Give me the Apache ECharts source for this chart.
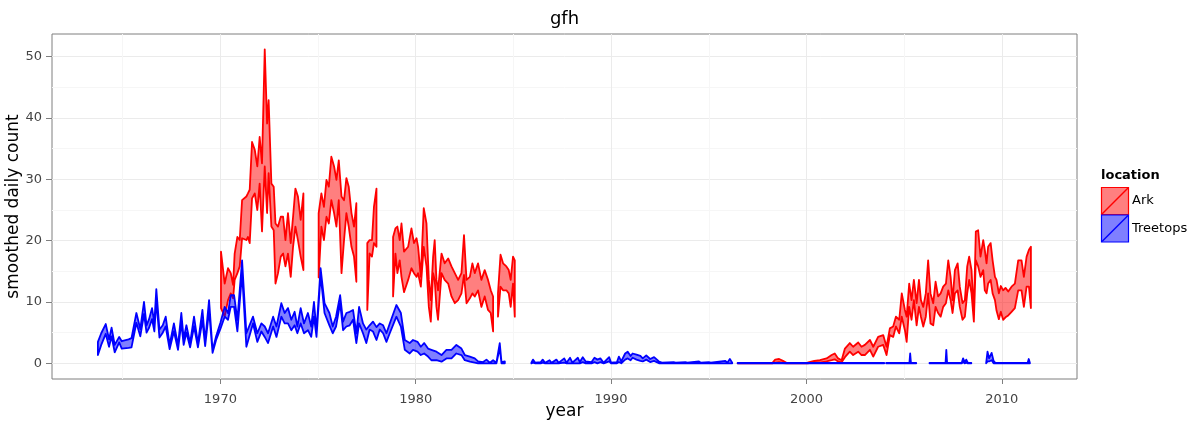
<!DOCTYPE html>
<html>
<head>
<meta charset="utf-8">
<title>gfh</title>
<script src="https://cdn.jsdelivr.net/npm/echarts@6/dist/echarts.min.js"></script>
<style>
  html, body { margin: 0; padding: 0; background: #ffffff; }
  #chart { width: 1201px; height: 430px; }
</style>
</head>
<body>
<div id="chart"></div>
<script>
// Axis ticks and ranges
const xMajor = [1970, 1980, 1990, 2000, 2010];
const xMinor = [1965, 1975, 1985, 1995, 2005];
const yMajor = [0, 10, 20, 30, 40, 50];
const yMinor = [5, 15, 25, 35, 45];
const xRange = [1961.38, 2013.85];
const yRange = [-2.56, 53.7];

// Treetops: smoothed daily count band (null = no data)
const treeYear = [
  1963.73, 1963.90, 1964.13, 1964.30, 1964.43, 1964.59, 1964.82, 1964.95, 1965.30, 1965.45,
  1965.70, 1965.90, 1966.09, 1966.22, 1966.35, 1966.50, 1966.62, 1966.72, 1966.88, 1967.05,
  1967.20, 1967.40, 1967.62, 1967.83, 1968.00, 1968.12, 1968.26, 1968.45, 1968.65, 1968.85,
  1969.08, 1969.22, 1969.42, 1969.60, 1969.78, 1970.00, 1970.22, 1970.39, 1970.53, 1970.70,
  1970.87, 1971.11, 1971.33, 1971.67, 1971.89, 1972.10, 1972.27, 1972.44, 1972.70, 1972.87,
  1973.12, 1973.29, 1973.46, 1973.63, 1973.80, 1973.94, 1974.11, 1974.28, 1974.48, 1974.65,
  1974.79, 1974.92, 1975.13, 1975.33, 1975.58, 1975.75, 1975.92, 1976.13, 1976.28, 1976.45,
  1976.62, 1976.79, 1976.96, 1977.10, 1977.30, 1977.47, 1977.64, 1977.81, 1977.99, 1978.16,
  1978.33, 1978.50, 1978.67, 1979.01, 1979.24, 1979.44, 1979.69, 1979.86, 1980.09, 1980.26,
  1980.43, 1980.63, 1980.80, 1981.06, 1981.32, 1981.57, 1981.83, 1982.08, 1982.34, 1982.51,
  1982.77, 1983.02, 1983.19, 1983.45, 1983.62, 1983.79, 1983.96, 1984.13, 1984.30, 1984.39,
  1984.56, 1985.20,
  1985.92, 1986.00, 1986.12, 1986.40, 1986.50, 1986.62, 1986.85, 1986.95, 1987.20, 1987.32,
  1987.60, 1987.72, 1987.90, 1988.02, 1988.30, 1988.40, 1988.55, 1988.70, 1989.00, 1989.15,
  1989.30, 1989.45, 1989.62, 1989.90, 1990.00, 1990.30, 1990.40, 1990.52, 1990.72, 1990.85,
  1991.00, 1991.10, 1991.30, 1991.50, 1991.62, 1991.80, 1992.00, 1992.20, 1992.45, 1992.60,
  1993.20, 1993.30, 1993.80, 1993.90, 1994.50, 1994.60, 1995.00, 1995.10, 1995.85, 1995.95,
  1996.08, 1996.20, 1996.34,
  1996.48, 2003.98, 2004.03,
  2004.08, 2005.27, 2005.31, 2005.35, 2005.62, 2005.95,
  2006.30, 2007.12, 2007.16, 2007.20, 2007.95, 2008.02, 2008.10, 2008.18, 2008.26, 2008.44, 2008.80,
  2009.20, 2009.27, 2009.35, 2009.48, 2009.58, 2009.68, 2011.32, 2011.38, 2011.44
];
const treeLow = [
  1.35, 3.0, 4.8, 2.7, 4.4, 1.8, 3.4, 2.4, 2.5, 2.6,
  6.6, 4.4, 8.0, 5.0, 5.8, 7.2, 5.2, 10.2, 4.2, 5.0,
  6.0, 2.3, 5.2, 2.2, 6.6, 3.0, 5.0, 2.6, 6.0, 2.6,
  7.0, 2.8, 8.6, 1.7, 3.8, 5.6, 7.6, 7.1, 9.2, 9.2,
  5.2, 14.7, 2.7, 6.5, 3.5, 5.2, 4.3, 3.3, 6.0, 4.3,
  7.6, 6.5, 6.5, 5.4, 6.2, 4.9, 6.5, 4.9, 5.4, 4.3,
  7.6, 4.3, 14.4, 8.2, 6.2, 4.9, 6.0, 9.8, 5.4, 6.0,
  6.2, 7.1, 3.3, 6.5, 4.9, 3.3, 5.5, 5.2, 3.8, 5.5,
  4.9, 3.5, 4.9, 7.6, 6.0, 2.2, 1.6, 2.2, 1.9, 1.35,
  1.6, 1.1, 0.5, 0.5, 0.26, 0.8, 0.8, 1.6, 1.35, 0.5,
  0.26, 0.1, 0, 0, 0, 0, 0, 0, 2.5, 0,
  0, null,
  0, 0.1, 0, 0, 0.1, 0, 0, 0, 0, 0,
  0.1, 0, 0, 0, 0, 0, 0.2, 0, 0, 0.2,
  0, 0.2, 0, 0.3, 0, 0, 0.2, 0, 0.6, 0.8,
  0.5, 0.9, 0.6, 0.4, 0.3, 0.6, 0.2, 0.4, 0, 0,
  0, 0, 0, 0, 0, 0, 0, 0, 0, 0,
  0, 0, null,
  0, 0, null,
  0, 0, 0, 0, 0, null,
  0, 0, 0, 0, 0, 0.2, 0, 0.1, 0, 0, null,
  0, 0.3, 0.3, 0.5, 0, 0, 0, 0, 0
];
const treeHigh = [
  3.5, 4.9, 6.4, 3.9, 5.8, 3.0, 4.3, 3.6, 3.9, 4.1,
  8.2, 5.6, 10.0, 6.2, 7.2, 9.0, 6.6, 12.1, 5.5, 6.2,
  7.6, 3.0, 6.5, 2.9, 8.2, 4.0, 6.2, 3.3, 7.6, 3.2,
  8.7, 3.6, 10.3, 2.1, 4.4, 6.6, 9.2, 8.2, 11.1, 11.1,
  7.1, 16.8, 4.9, 7.6, 4.9, 6.5, 6.0, 4.9, 7.6, 6.0,
  9.8, 8.2, 9.0, 7.1, 8.4, 6.0, 9.0, 6.5, 8.2, 6.0,
  10.0, 5.4, 15.5, 9.8, 8.2, 6.0, 7.6, 11.1, 6.8, 8.2,
  8.4, 8.7, 4.9, 9.2, 6.5, 5.5, 6.2, 6.8, 5.9, 6.5,
  6.2, 4.9, 6.5, 9.5, 8.2, 3.8, 3.3, 3.8, 3.5, 2.7,
  3.3, 2.4, 2.2, 1.9, 1.35, 2.2, 2.2, 3.0, 2.4, 1.35,
  1.1, 0.8, 0.3, 0.2, 0.6, 0.1, 0.5, 0.1, 3.3, 0.2,
  0.3, null,
  0.1, 0.6, 0.1, 0.2, 0.6, 0.1, 0.5, 0.1, 0.6, 0.1,
  0.8, 0.1, 0.9, 0.1, 0.9, 0.2, 1.0, 0.3, 0.2, 0.9,
  0.6, 0.8, 0.1, 1.0, 0.1, 0.2, 1.1, 0.3, 1.6, 1.9,
  1.2, 1.6, 1.4, 1.2, 0.8, 1.3, 0.7, 1.0, 0.3, 0.1,
  0.2, 0.1, 0.2, 0.1, 0.3, 0.1, 0.2, 0.1, 0.4, 0.1,
  0.7, 0.1, null,
  0.05, 0.05, null,
  0.05, 0.05, 1.6, 0.05, 0.05, null,
  0.05, 0.05, 2.2, 0.05, 0.1, 0.8, 0.2, 0.6, 0.1, 0.05, null,
  0.05, 1.9, 0.8, 1.7, 0.4, 0.05, 0.05, 0.7, 0.05
];

// Ark: smoothed daily count band (null = no data)
const arkYear = [
  1970.03, 1970.22, 1970.39, 1970.53, 1970.65, 1970.73, 1970.87, 1970.99, 1971.11, 1971.33,
  1971.41, 1971.50, 1971.62, 1971.76, 1971.89, 1972.01, 1972.13, 1972.27, 1972.39, 1972.47,
  1972.61, 1972.73, 1972.82, 1972.95, 1973.09, 1973.21, 1973.33, 1973.46, 1973.60, 1973.72,
  1973.84, 1973.97, 1974.11, 1974.25, 1974.60,
  1975.03, 1975.17, 1975.30, 1975.43, 1975.55, 1975.68, 1975.82, 1975.94, 1976.06, 1976.20,
  1976.33, 1976.45, 1976.57, 1976.71, 1976.84, 1976.96, 1977.25,
  1977.52, 1977.64, 1977.76, 1977.86, 1977.99, 1978.40,
  1978.84, 1978.96, 1979.06, 1979.18, 1979.27, 1979.40, 1979.61, 1979.78, 1979.91, 1980.04,
  1980.12, 1980.26, 1980.41, 1980.55, 1980.67, 1980.77, 1980.89, 1980.97, 1981.06, 1981.14,
  1981.32, 1981.48, 1981.66, 1981.83, 1982.00, 1982.17, 1982.34, 1982.47, 1982.60, 1982.77,
  1982.90, 1983.02, 1983.19, 1983.36, 1983.53, 1983.70, 1983.84, 1983.96, 1984.08,
  1984.21, 1984.34, 1984.47, 1984.64, 1984.76, 1984.86, 1984.98, 1985.07, 1990.00,
  1996.48, 1998.25, 1998.40, 1998.60, 1998.80, 1999.00, 2000.05, 2000.40, 2000.69, 2001.03,
  2001.29, 2001.45, 2001.62, 2001.80, 2001.97, 2002.22, 2002.39, 2002.65, 2002.82, 2002.99,
  2003.25, 2003.42, 2003.67, 2003.93, 2004.10, 2004.27, 2004.44, 2004.58, 2004.75, 2004.88,
  2005.04, 2005.13, 2005.26, 2005.38, 2005.50, 2005.64, 2005.76, 2005.86, 2005.98, 2006.11,
  2006.23, 2006.35, 2006.49, 2006.61, 2006.74, 2006.87, 2007.00, 2007.14, 2007.26, 2007.38,
  2007.48, 2007.60, 2007.74, 2007.85, 2007.99, 2008.11, 2008.23, 2008.33, 2008.45, 2008.57,
  2008.67, 2008.79, 2008.91, 2009.05, 2009.13, 2009.22, 2009.30, 2009.43, 2009.53, 2009.65,
  2009.73, 2009.85, 2009.95, 2010.07, 2010.19, 2010.33, 2010.50, 2010.67, 2010.84, 2011.01,
  2011.13, 2011.27, 2011.39, 2011.49
];
const arkLow = [
  9.0, 7.6, 10.3, 11.4, 10.6, 13.6, 14.7, 15.8, 20.4, 20.1,
  20.6, 19.6, 26.9, 27.7, 25.0, 29.3, 21.5, 32.1, 24.5, 31.0,
  22.3, 21.7, 13.0, 14.7, 17.4, 17.9, 15.8, 17.9, 14.1, 19.0,
  22.3, 20.1, 17.4, 15.2, null,
  14.0, 22.3, 20.1, 23.9, 22.8, 26.6, 24.5, 22.3, 26.6, 14.7,
  20.1, 24.5, 22.3, 19.0, 17.4, 13.3, null,
  8.7, 17.9, 17.4, 19.6, 19.0, null,
  10.9, 17.9, 14.7, 16.8, 14.1, 11.6, 13.6, 15.5, 14.7, 14.1,
  14.7, 12.5, 19.0, 15.8, 9.2, 6.8, 14.7, 13.6, 9.2, 7.1,
  14.7, 13.6, 13.0, 10.9, 9.8, 10.3, 11.4, 14.4, 9.8, 10.6,
  11.4, 10.9, 11.9, 9.2, 10.9, 8.7, 8.2, 5.2, null,
  7.6, 12.5, 11.9, 11.9, 11.4, 9.2, 13.0, 7.6, null,
  0, 0, 0.1, 0.2, 0.05, 0, 0, 0.1, 0.1, 0.3,
  0.5, 0.65, 0.3, 0.15, 1.0, 1.9, 1.35, 1.9, 1.35, 1.35,
  2.2, 1.1, 2.7, 3.0, 1.35, 4.6, 4.3, 6.0, 4.9, 7.6,
  5.4, 3.5, 9.2, 7.1, 10.3, 6.2, 9.2, 7.6, 6.0, 7.6,
  11.4, 6.5, 6.2, 9.2, 8.2, 7.6, 9.2, 9.8, 11.9, 10.3,
  8.2, 11.4, 11.9, 9.2, 7.1, 7.6, 11.4, 13.6, 11.4, 6.8,
  16.8, 15.8, 14.1, 15.2, 11.9, 11.4, 13.0, 13.6, 11.4, 10.3,
  8.6, 7.2, 8.4, 7.1, 7.5, 7.8, 8.4, 9.0, 11.9, 11.9,
  9.2, 12.5, 12.5, 9.0
];
const arkHigh = [
  18.2, 13.0, 15.5, 14.7, 12.8, 17.9, 20.6, 20.1, 26.6, 27.2,
  27.7, 28.3, 36.1, 34.8, 32.1, 36.9, 32.6, 51.2, 39.1, 42.9,
  29.3, 28.8, 22.8, 22.3, 23.9, 23.9, 20.1, 24.5, 19.6, 23.9,
  28.5, 27.2, 23.4, 27.7, null,
  24.5, 27.7, 25.5, 29.9, 28.8, 33.7, 32.1, 29.9, 33.1, 27.2,
  26.6, 30.2, 28.8, 24.5, 22.3, 26.1, null,
  19.6, 20.1, 20.1, 25.5, 28.5, null,
  20.6, 22.0, 22.3, 20.1, 22.8, 18.2, 19.0, 22.0, 19.6, 20.4,
  19.0, 14.1, 25.3, 22.8, 13.6, 10.3, 17.4, 20.1, 13.6, 11.9,
  17.9, 16.3, 17.1, 15.8, 14.7, 13.6, 14.7, 20.9, 13.6, 14.1,
  16.3, 14.7, 16.3, 13.6, 15.2, 13.6, 11.9, 10.9, null,
  11.4, 17.7, 16.3, 15.8, 15.2, 13.6, 17.4, 16.8, null,
  0.02, 0.05, 0.6, 0.7, 0.4, 0.05, 0.1, 0.4, 0.5, 0.8,
  1.35, 1.6, 0.8, 0.5, 2.4, 3.3, 2.7, 3.4, 2.7, 3.0,
  3.8, 2.7, 4.3, 4.6, 2.7, 5.7, 6.0, 7.6, 7.1, 11.4,
  8.7, 7.6, 13.0, 10.3, 13.6, 9.8, 13.6, 10.3, 9.2, 11.4,
  16.8, 11.4, 9.8, 13.3, 10.9, 11.4, 12.5, 13.0, 16.8, 14.1,
  10.3, 15.2, 16.3, 12.5, 9.8, 10.3, 15.8, 17.4, 15.2, 8.2,
  21.5, 21.7, 17.4, 20.1, 18.5, 16.3, 19.0, 19.6, 16.8, 14.1,
  13.6, 11.4, 12.6, 11.9, 12.3, 11.7, 12.5, 13.0, 16.8, 16.8,
  14.1, 17.4, 18.5, 19.0
];

const FONT = 'DejaVu Sans';
const ARK_LINE = '#ff0000', ARK_FILL = 'rgba(255,0,0,0.5)';
const TREE_LINE = '#0000ff', TREE_FILL = 'rgba(0,0,255,0.5)';

// One filled, outlined polygon per unbroken run of the band
function ribbonSeries(name, year, low, high, stroke, fill) {
  const runs = [];
  let start = -1;
  for (let i = 0; i <= year.length; i++) {
    const ok = i < year.length && low[i] != null && high[i] != null;
    if (ok && start < 0) start = i;
    if (!ok && start >= 0) {
      runs.push([year[start], low[start], start, i - 1]);
      start = -1;
    }
  }
  return {
    type: 'custom',
    name: name,
    coordinateSystem: 'cartesian2d',
    xAxisIndex: 0,
    yAxisIndex: 0,
    clip: true,
    silent: true,
    encode: { x: 0, y: 1 },
    data: runs,
    renderItem: function (params, api) {
      const s = api.value(2), e = api.value(3);
      const pts = [];
      for (let i = s; i <= e; i++) pts.push(api.coord([year[i], high[i]]));
      for (let i = e; i >= s; i--) pts.push(api.coord([year[i], low[i]]));
      return {
        type: 'polygon',
        shape: { points: pts },
        style: { fill: fill, stroke: stroke, lineWidth: 1.8, lineJoin: 'round' }
      };
    }
  };
}

function legendKey(y, stroke, fill, label) {
  return [
    { type: 'rect', shape: { x: 1101.5, y: y + 0.5, width: 27, height: 27 },
      style: { fill: fill, stroke: stroke, lineWidth: 1.2 } },
    { type: 'line', shape: { x1: 1102, y1: y + 27, x2: 1128, y2: y + 1 },
      style: { stroke: stroke, lineWidth: 1.4 } },
    { type: 'text', x: 1132, y: y + 14,
      style: { text: label, fill: '#000', font: '13px "' + FONT + '"',
               align: 'left', verticalAlign: 'middle', textAlign: 'left', textVerticalAlign: 'middle' } }
  ];
}

const plainNumber = function (v) { return String(v); };

const chart = echarts.init(document.getElementById('chart'), null, { renderer: 'canvas' });

chart.setOption({
  animation: false,
  backgroundColor: '#ffffff',
  grid: {
    left: 52, right: 124, top: 34, bottom: 51,
    show: true, backgroundColor: '#ffffff', borderColor: '#7f7f7f', borderWidth: 1,
    containLabel: false, outerBoundsMode: 'none'
  },
  xAxis: [{
    type: 'value', min: xRange[0], max: xRange[1],
    name: 'year', nameLocation: 'middle', nameGap: 24, nameMoveOverlap: false,
    nameTextStyle: { fontFamily: FONT, fontSize: 17, color: '#000' },
    axisLine: { show: false, onZero: false },
    axisTick: { show: true, length: 5, customValues: xMajor, lineStyle: { color: '#7f7f7f' } },
    axisLabel: { customValues: xMajor, formatter: plainNumber, margin: 14,
                 fontFamily: FONT, fontSize: 13, color: '#444' },
    splitLine: { show: true, lineStyle: { color: '#ebebeb', width: 1 } }
  }, {
    type: 'value', min: xRange[0], max: xRange[1], position: 'bottom',
    axisLine: { show: false, onZero: false },
    axisTick: { show: false, customValues: xMinor },
    axisLabel: { show: false, customValues: xMinor },
    splitLine: { show: true, lineStyle: { color: '#f6f6f6', width: 1 } }
  }],
  yAxis: [{
    type: 'value', min: yRange[0], max: yRange[1],
    name: 'smoothed daily count', nameLocation: 'middle', nameGap: 30, nameMoveOverlap: false,
    nameTextStyle: { fontFamily: FONT, fontSize: 17, color: '#000' },
    axisLine: { show: false, onZero: false },
    axisTick: { show: true, length: 6, customValues: yMajor, lineStyle: { color: '#7f7f7f' } },
    axisLabel: { customValues: yMajor, formatter: plainNumber, margin: 10,
                 fontFamily: FONT, fontSize: 13, color: '#444' },
    splitLine: { show: true, lineStyle: { color: '#ebebeb', width: 1 } }
  }, {
    type: 'value', min: yRange[0], max: yRange[1], position: 'left',
    axisLine: { show: false, onZero: false },
    axisTick: { show: false, customValues: yMinor },
    axisLabel: { show: false, customValues: yMinor },
    splitLine: { show: true, lineStyle: { color: '#f6f6f6', width: 1 } }
  }],
  graphic: [
    { type: 'text', x: 564.5, y: 19,
      style: { text: 'gfh', fill: '#000', font: '18px "' + FONT + '"',
               align: 'center', verticalAlign: 'middle', textAlign: 'center', textVerticalAlign: 'middle' } },
    { type: 'text', x: 1101, y: 176,
      style: { text: 'location', fill: '#000', font: 'bold 13px "' + FONT + '"',
               align: 'left', verticalAlign: 'middle', textAlign: 'left', textVerticalAlign: 'middle' } }
  ].concat(legendKey(187, ARK_LINE, ARK_FILL, 'Ark'))
   .concat(legendKey(214.5, TREE_LINE, TREE_FILL, 'Treetops')),
  series: [
    ribbonSeries('Ark', arkYear, arkLow, arkHigh, ARK_LINE, ARK_FILL),
    ribbonSeries('Treetops', treeYear, treeLow, treeHigh, TREE_LINE, TREE_FILL)
  ]
});
</script>
</body>
</html>
